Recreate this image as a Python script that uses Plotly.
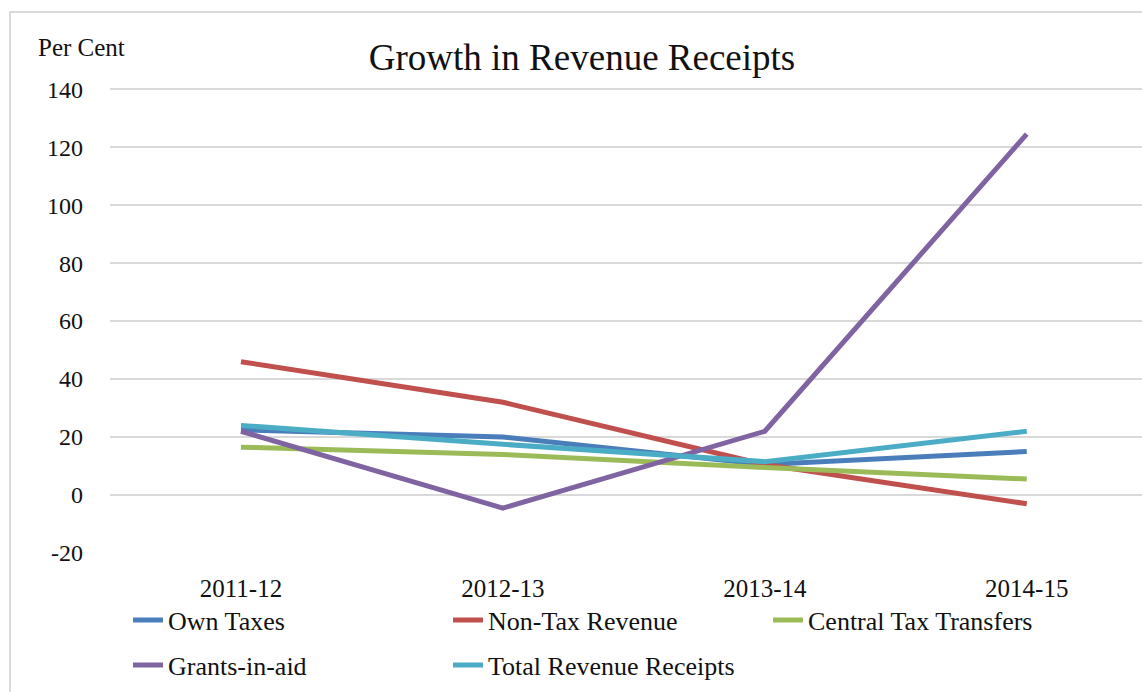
import plotly.graph_objects as go

years = ["2011-12", "2012-13", "2013-14", "2014-15"]
own_taxes = [22.5, 20.0, 10.5, 15.0]
non_tax_revenue = [46.0, 32.0, 10.5, -3.0]
central_tax_transfers = [16.5, 14.0, 9.5, 5.5]
grants_in_aid = [22.0, -4.5, 22.0, 124.5]
total_revenue_receipts = [24.0, 17.5, 11.5, 22.0]
y_ticks = [-20, 0, 20, 40, 60, 80, 100, 120, 140]

series = [
    ("Own Taxes", own_taxes, "#4A7EBB", "legend"),
    ("Non-Tax Revenue", non_tax_revenue, "#C0504D", "legend"),
    ("Central Tax Transfers", central_tax_transfers, "#9BBB59", "legend"),
    ("Grants-in-aid", grants_in_aid, "#8064A2", "legend2"),
    ("Total Revenue Receipts", total_revenue_receipts, "#4BACC6", "legend2"),
]

W, H = 1142, 692
ML, MR, MT, MB = 110, 0, 88, 139
PW, PH = W - ML - MR, H - MT - MB

FONT = "Liberation Serif, Times New Roman, serif"

fig = go.Figure()
for name, vals, color, leg in series:
    fig.add_trace(go.Scatter(
        x=years, y=vals, name=name, mode="lines",
        line=dict(color=color, width=5),
        legend=leg,
    ))

# outer chart frame
fig.add_shape(
    type="rect", xref="paper", yref="paper",
    x0=(10 - ML) / PW, x1=(W + 20 - ML) / PW,
    y0=(H - MB - (H + 20)) / PH, y1=(H - MB - 12) / PH,
    line=dict(color="#D9D9D9", width=2), fillcolor="rgba(0,0,0,0)", layer="below",
)

legend_common = dict(
    orientation="h", xref="container", yref="container",
    xanchor="left", yanchor="middle",
    font=dict(family=FONT, size=26, color="#111111"),
    entrywidth=275, entrywidthmode="pixels",
    bgcolor="rgba(0,0,0,0)", itemwidth=30,
)

fig.update_layout(
    width=W, height=H,
    margin=dict(l=ML, r=MR, t=MT, b=MB, autoexpand=False),
    paper_bgcolor="white", plot_bgcolor="white",
    font=dict(family=FONT, size=24, color="#111111"),
    title=dict(text="Growth in Revenue Receipts", x=582 / W, xanchor="center",
               y=1 - 57 / H, yanchor="middle",
               font=dict(family=FONT, size=37, color="#111111")),
    xaxis=dict(type="category", range=[-0.5, 3.44], showgrid=False, showline=False,
               zeroline=False, ticks="", ticklabelstandoff=18, automargin=False,
               tickfont=dict(family=FONT, size=25, color="#111111")),
    yaxis=dict(range=[-20, 140.4], tickvals=y_ticks, ticktext=[str(v) for v in y_ticks],
               showgrid=True, gridcolor="#D9D9D9", automargin=False,
               gridwidth=1.5, zeroline=True, zerolinecolor="#D9D9D9", zerolinewidth=1.5,
               showline=False, ticks="", ticklabelstandoff=26,
               tickfont=dict(family=FONT, size=24, color="#111111")),
    legend=dict(x=128 / W, y=1 - 620 / H, **legend_common),
    legend2=dict(x=128 / W, y=1 - 665 / H, **legend_common),
    annotations=[dict(text="Per Cent", xref="paper", yref="paper",
                      x=(36 - ML) / PW, y=(H - MB - 47) / PH,
                      xanchor="left", yanchor="middle", showarrow=False,
                      font=dict(family=FONT, size=25, color="#111111"))],
)

fig.write_html("out.html")
